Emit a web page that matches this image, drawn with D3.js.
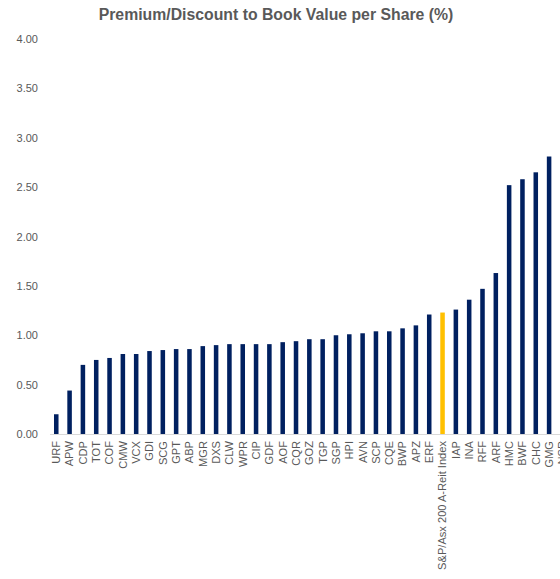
<!DOCTYPE html>
<html lang="en">
<head>
    <meta charset="utf-8">
    <title>Premium/Discount to Book Value per Share</title>
    <style>
        body { margin: 0; background: #fff; overflow: hidden; }
        .chart text { font-family: "Liberation Sans", Arial, sans-serif; fill: #595959; }
    </style>
</head>
<body>
    <svg class="chart"></svg>

    <script src="https://d3js.org/d3.v7.min.js"></script>
    <script>
        // tickers, sorted by ratio (last one sits past the edge of the picture)
        var tickers = ["URF", "APW", "CDP", "TOT", "COF", "CMW", "VCX", "GDI", "SCG", "GPT",
            "ABP", "MGR", "DXS", "CLW", "WPR", "CIP", "GDF", "AOF", "CQR", "GOZ",
            "TGP", "SGP", "HPI", "AVN", "SCP", "CQE", "BWP", "APZ", "ERF",
            "S&P/Asx 200 A-Reit Index", "IAP", "INA", "RFF", "ARF", "HMC", "BWF", "CHC", "GMG", "NSR"];

        var ratios = [0.20, 0.44, 0.70, 0.75, 0.77, 0.81, 0.81, 0.84, 0.85, 0.86,
            0.86, 0.89, 0.90, 0.91, 0.91, 0.91, 0.91, 0.93, 0.94, 0.96,
            0.96, 1.00, 1.01, 1.02, 1.04, 1.04, 1.07, 1.10, 1.21,
            1.23, 1.26, 1.36, 1.47, 1.63, 2.52, 2.58, 2.65, 2.81, 2.95];

        var indexName = "S&P/Asx 200 A-Reit Index";
        var yTicks = [0, 0.5, 1, 1.5, 2, 2.5, 3, 3.5, 4];

        var width = 560,
            height = 579;

        var svg = d3.select(".chart")
            .attr("width", width)
            .attr("height", height);

        var x = d3.scaleBand()
            .domain(tickers)
            .range([49.6, 49.6 + tickers.length * 13.32])
            .paddingInner(0.66)
            .paddingOuter(0.33);

        var y = d3.scaleLinear()
            .domain([0, 4])
            .range([434, 39]);

        svg.append("text")
            .attr("x", 276)
            .attr("y", 20)
            .attr("text-anchor", "middle")
            .style("font-size", "15.8px")
            .style("font-weight", "bold")
            .text("Premium/Discount to Book Value per Share (%)");

        // y axis: labels only
        var yAxis = svg.append("g")
            .attr("transform", "translate(38,0)")
            .call(d3.axisLeft(y).tickValues(yTicks).tickFormat(d3.format(".2f")).tickSize(0).tickPadding(0));
        yAxis.select(".domain").remove();
        yAxis.selectAll("text").style("font-size", "11px");

        svg.selectAll("rect.bar")
            .data(tickers)
            .enter().append("rect")
            .attr("class", "bar")
            .attr("x", function(d) { return x(d); })
            .attr("width", x.bandwidth())
            .attr("y", function(d, i) { return y(ratios[i]); })
            .attr("height", function(d, i) { return y(0) - y(ratios[i]); })
            .attr("fill", function(d) { return d == indexName ? "#FFC000" : "#002060"; });

        // x axis
        var xAxis = svg.append("g")
            .attr("transform", "translate(0," + y(0) + ")")
            .call(d3.axisBottom(x).tickSize(0).tickPadding(0));
        xAxis.select(".domain")
            .attr("stroke", "#d9d9d9")
            .attr("stroke-width", 1);
        xAxis.selectAll("text")
            .style("font-size", "11.1px")
            .attr("text-anchor", "end")
            .attr("transform", "rotate(-90)")
            .attr("x", -7)
            .attr("y", 0)
            .attr("dy", "0.35em");
    </script>
</body>
</html>
